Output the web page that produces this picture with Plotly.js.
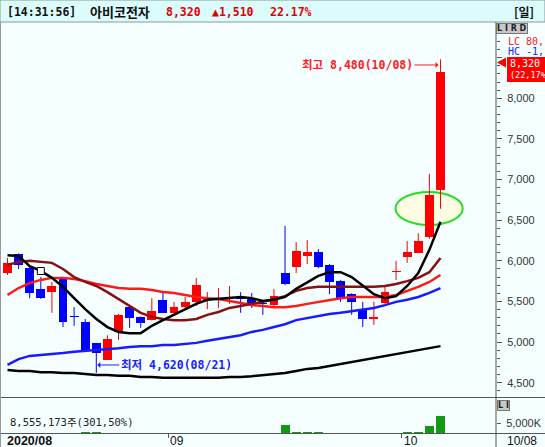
<!DOCTYPE html>
<html><head><meta charset="utf-8">
<script src="https://cdn.plot.ly/plotly-3.0.1.min.js"></script>
<style>html,body{margin:0;padding:0;background:#f5ffff}#c{width:545px;height:447px}</style>
</head><body><div id="c"></div>
<script>
// ---- data ----
const dates = ['08/10','08/11','08/12','08/13','08/14','08/18','08/19','08/20','08/21','08/24',
  '08/25','08/26','08/27','08/28','08/31','09/01','09/02','09/03','09/04','09/07',
  '09/08','09/09','09/10','09/11','09/14','09/15','09/16','09/17','09/18','09/21',
  '09/22','09/23','09/24','09/25','09/28','09/29','10/05','10/06','10/07','10/08'];
const openP  = [5850,6080,5910,5650,5615,5775,5320,5245,4990,4780, 5125,5430,5310,5270,5520,5360,5430,5495,5520,5530,
  5540,5545,5530,5480,5455,5850,5925,6060,6110,5950, 5750,5590,5405,5290,5480,5865,6045,6095,6295,6870];
const highP  = [6035,6090,5935,5800,5740,5780,5430,5285,4990,5085, 5345,5445,5315,5540,5615,5495,5555,5790,5615,5665,
  5690,5615,5605,5520,5655,6430,6230,6255,6145,5960, 5765,5600,5495,5495,5700,6000,6245,6340,7070,8480];
const lowP   = [5825,5900,5540,5530,5360,5185,5200,4900,4620,4780, 5025,5175,5175,5265,5355,5355,5395,5445,5405,5420,
  5470,5360,5420,5335,5445,5700,5850,5960,5910,5590, 5495,5335,5185,5210,5465,5765,5975,6095,6270,6640];
const closeP = [5975,5950,5605,5540,5690,5245,5305,4900,4865,5040, 5335,5295,5235,5380,5360,5430,5495,5700,5530,5540,
  5555,5530,5470,5470,5565,5715,6120,6110,5925,5740, 5540,5495,5285,5305,5615,5875,6110,6245,6810,8320];
const volume = [420000,380000,350000,300000,260000,410000,280000,450000,520000,390000,
  330000,280000,200000,240000,260000,180000,210000,330000,190000,170000,
  160000,150000,140000,130000,210000,4230000,600000,520000,460000,400000,
  360000,300000,280000,190000,260000,420000,480000,560000,3740000,8555173];
const ma5   = [6070,6060,5935,5875,5790,5680,5540,5405,5285,5185, 5125,5110,5110,5200,5270,5335,5395,5470,5520,5530,
  5540,5555,5540,5505,5520,5555,5655,5740,5815,5860, 5860,5800,5700,5590,5540,5565,5690,5850,6135,6480];
const ma10  = [5950,5985,6000,5985,5975,5900,5800,5740,5690,5615, 5530,5445,5360,5310,5285,5270,5270,5285,5335,5370,
  5420,5445,5470,5495,5530,5565,5630,5665,5680,5680, 5680,5680,5680,5680,5690,5715,5750,5790,5860,6035];
const ma20  = [5580,5665,5725,5765,5790,5790,5775,5750,5715,5690, 5665,5655,5655,5640,5615,5605,5580,5555,5540,5530,
  5505,5480,5455,5445,5430,5430,5445,5470,5495,5520, 5540,5555,5555,5555,5555,5580,5630,5680,5740,5825];
const ma60  = [4720,4790,4830,4840,4855,4865,4880,4890,4900,4915, 4925,4940,4950,4950,4965,4965,4975,4990,5015,5040,
  5060,5085,5125,5150,5185,5220,5270,5295,5320,5345, 5360,5380,5395,5420,5455,5495,5520,5555,5605,5665];
const ma120 = [4655,4645,4645,4630,4630,4620,4620,4605,4595,4595, 4585,4585,4570,4570,4560,4560,4560,4560,4560,4560,
  4570,4570,4580,4595,4605,4620,4645,4670,4680,4705, 4730,4755,4780,4805,4830,4855,4880,4900,4925,4950];
const priceTicks = [4500,5000,5500,6000,6500,7000,7500,8000,8500];
const monthTickText = ['2020/08','09','10'];

// ---- build ----
const idx = dates.map((d,i)=>i);
const UP='#ff0000', DN='#0000ff';
const isUp = idx.map(i=>closeP[i]>=openP[i]);
const bodyBase = idx.map(i=>Math.min(openP[i],closeP[i]));
const bodyH = idx.map(i=>Math.max(Math.abs(closeP[i]-openP[i]),12));
const bodyCol = idx.map(i=>isUp[i]?UP:DN);
function wick(up){const x=[],y=[];idx.forEach(i=>{if(isUp[i]===up){x.push(i,i,null);y.push(lowP[i],highP[i],null);}});return {x,y};}
const wu=wick(true), wd=wick(false);
const monthStart = idx.filter(i=>i===0||dates[i].slice(0,2)!==dates[i-1].slice(0,2));
const monthBound = monthStart.map(i=>i-0.5);

const X = px=>px/545, Y = py=>1-py/447;
const MONO='DejaVu Sans Mono, Noto Sans CJK KR';
const CJK='Noto Sans CJK KR, DejaVu Sans';

const traces = [
 {type:'scatter',mode:'lines',x:wu.x,y:wu.y,line:{color:UP,width:1},xaxis:'x',yaxis:'y',hoverinfo:'skip'},
 {type:'scatter',mode:'lines',x:wd.x,y:wd.y,line:{color:DN,width:1},xaxis:'x',yaxis:'y',hoverinfo:'skip'},
 {type:'bar',x:idx,y:bodyH,base:bodyBase,width:0.8,marker:{color:bodyCol,line:{width:0}},xaxis:'x',yaxis:'y'},
 {type:'scatter',mode:'lines',x:idx,y:ma120,line:{color:'#000000',width:2.5}},
 {type:'scatter',mode:'lines',x:idx,y:ma60,line:{color:'#1a1aff',width:2.5}},
 {type:'scatter',mode:'lines',x:idx,y:ma20,line:{color:'#ff1a1a',width:2.5}},
 {type:'scatter',mode:'lines',x:idx,y:ma10,line:{color:'#8b1010',width:2.5}},
 {type:'scatter',mode:'lines',x:idx,y:ma5,line:{color:'#000000',width:2.5}},
 {type:'scatter',mode:'markers',x:[idx[3]],y:[ma5[3]],marker:{symbol:'square',size:7,color:'#ffffff',line:{color:'#000',width:1}}},
 {type:'bar',x:idx,y:volume,width:0.8,marker:{color:'#119911',line:{width:0}},xaxis:'x2',yaxis:'y2'}
];

const lastI = idx.length-1;
const lowI = lowP.indexOf(Math.min(...lowP));
const highI = highP.indexOf(Math.max(...highP));
const fmt = v=>v.toLocaleString('en-US');
const chg = closeP[lastI]-closeP[lastI-1];
const pct = (chg/closeP[lastI-1]*100).toFixed(2);

const annotations = [
 {xref:'paper',yref:'paper',x:X(5),y:Y(12),xanchor:'left',yanchor:'middle',showarrow:false,text:'<b>[14:31:56]</b>',font:{family:MONO,size:11.5,color:'#111'}},
 {xref:'paper',yref:'paper',x:X(88),y:Y(12),xanchor:'left',yanchor:'middle',showarrow:false,text:'<b>아비코전자</b>',font:{family:CJK,size:13,color:'#111'}},
 {xref:'paper',yref:'paper',x:X(164),y:Y(12),xanchor:'left',yanchor:'middle',showarrow:false,text:'<b>'+fmt(closeP[lastI])+'</b>',font:{family:MONO,size:11.5,color:'#e00000'}},
 {xref:'paper',yref:'paper',x:X(210),y:Y(12),xanchor:'left',yanchor:'middle',showarrow:false,text:'<b>▲'+fmt(chg)+'</b>',font:{family:MONO,size:11.5,color:'#e00000'}},
 {xref:'paper',yref:'paper',x:X(268),y:Y(12),xanchor:'left',yanchor:'middle',showarrow:false,text:'<b>'+pct+'%</b>',font:{family:MONO,size:11.5,color:'#e00000'}},
 {xref:'paper',yref:'paper',x:X(512),y:Y(12),xanchor:'left',yanchor:'middle',showarrow:false,text:'<b>[일]</b>',font:{family:CJK,size:12,color:'#111'}},
 {xref:'paper',yref:'paper',x:X(496),y:Y(29),xanchor:'left',yanchor:'middle',showarrow:false,text:'<b>L I R D</b>',font:{family:'DejaVu Sans',size:8,color:'#222'},bgcolor:'#c8c8c8',bordercolor:'#777',borderwidth:1,borderpad:0},
 {xref:'paper',yref:'paper',x:X(506),y:Y(41.5),xanchor:'left',yanchor:'middle',showarrow:false,text:'LC 80,',font:{family:MONO,size:10,color:'#ff2020'}},
 {xref:'paper',yref:'paper',x:X(506),y:Y(51.5),xanchor:'left',yanchor:'middle',showarrow:false,text:'HC -1,',font:{family:MONO,size:10,color:'#2020ff'}},
 {xref:'paper',yref:'paper',x:X(507.5),y:Y(63),xanchor:'left',yanchor:'middle',showarrow:false,text:fmt(closeP[lastI]),font:{family:MONO,size:10,color:'#ffffff'}},
 {xref:'paper',yref:'paper',x:X(507.5),y:Y(75),xanchor:'left',yanchor:'middle',showarrow:false,text:'('+pct.replace('.',',')+'%',font:{family:MONO,size:8.5,color:'#ffffff'}},
 {xref:'x',yref:'y',x:highI,y:8410,ax:-83,ay:0,showarrow:true,arrowhead:1,arrowsize:1,arrowwidth:1,arrowcolor:'#ff2020',standoff:2,
  text:'<b>최고 '+fmt(highP[highI])+'('+dates[highI]+')</b>',font:{family:MONO,size:11.5,color:'#ff2020'}},
 {xref:'x',yref:'y',x:lowI,y:4718,ax:80,ay:0,showarrow:true,arrowhead:1,arrowsize:1,arrowwidth:1,arrowcolor:'#2020ff',standoff:1,
  text:'<b>최저 '+fmt(lowP[lowI])+'('+dates[lowI]+')</b>',font:{family:MONO,size:11.5,color:'#2020ff'}},
 {xref:'paper',yref:'paper',x:X(8),y:Y(422),xanchor:'left',yanchor:'middle',showarrow:false,text:fmt(volume[lastI])+'주(301,50%)',font:{family:MONO,size:10.5,color:'#222'}},
 {xref:'paper',yref:'paper',x:X(497),y:Y(405),xanchor:'left',yanchor:'middle',showarrow:false,text:'<b>L I</b>',font:{family:'DejaVu Sans',size:8,color:'#222'},bgcolor:'#c8c8c8',bordercolor:'#777',borderwidth:1,borderpad:0},
 {xref:'x2',yref:'paper',x:monthBound[0]+0.3,y:Y(441),xanchor:'left',yanchor:'middle',showarrow:false,text:'<b>'+monthTickText[0]+'</b>',font:{family:'Liberation Sans',size:12.5,color:'#111'}},
 {xref:'x2',yref:'paper',x:monthBound[1],y:Y(441),xanchor:'left',yanchor:'middle',showarrow:false,text:monthTickText[1],font:{family:'Liberation Sans',size:12,color:'#111'}},
 {xref:'x2',yref:'paper',x:monthBound[2],y:Y(441),xanchor:'left',yanchor:'middle',showarrow:false,text:monthTickText[2],font:{family:'Liberation Sans',size:12,color:'#111'}},
 {xref:'paper',yref:'paper',x:X(505),y:Y(441),xanchor:'left',yanchor:'middle',showarrow:false,text:dates[lastI],font:{family:'Liberation Sans',size:12,color:'#111'}}
];

const shapes = [
 {type:'rect',xref:'paper',yref:'paper',x0:0,x1:1,y0:Y(22),y1:1,fillcolor:'#dcfcfc',line:{color:'#8a9a9a',width:1},layer:'below'},
 {type:'circle',xref:'x',yref:'y',x0:34.95,x1:41.0,y0:6441,y1:6847,fillcolor:'rgba(255,253,225,0.9)',line:{color:'#22dd22',width:2},layer:'below'},
 {type:'line',xref:'paper',yref:'paper',x0:0,x1:1,y0:Y(397.5),y1:Y(397.5),line:{color:'#555',width:1}},
 {type:'line',xref:'paper',yref:'paper',x0:0,x1:1,y0:Y(433.5),y1:Y(433.5),line:{color:'#555',width:1}},
 {type:'line',xref:'paper',yref:'paper',x0:X(496),x1:X(496),y0:Y(22),y1:0,line:{color:'#555',width:1}},
 {type:'line',xref:'paper',yref:'paper',x0:X(0.5),x1:X(0.5),y0:Y(22),y1:0,line:{color:'#999',width:1}},
 {type:'rect',xref:'paper',yref:'paper',x0:X(507),x1:1,y0:Y(82),y1:Y(57),fillcolor:'#ff0000',line:{width:0}},
 {type:'path',xref:'paper',yref:'paper',path:`M ${X(497)} ${Y(62.5)} L ${X(506)} ${Y(57.5)} L ${X(506)} ${Y(67.5)} Z`,fillcolor:'#ff0000',line:{width:0}}
];

// the 8,500 level sits under the price tag, so only its tick mark is drawn
const tickText = priceTicks.map(v=>v>8400?'':fmt(v));

const layout = {
 width:545,height:447,margin:{l:0,r:0,t:0,b:0},autosize:false,
 paper_bgcolor:'#f5ffff',plot_bgcolor:'#f5ffff',showlegend:false,hovermode:false,bargap:0,
 xaxis:{domain:[X(2),X(496)],range:[-0.495,44.0],showticklabels:false,showgrid:false,zeroline:false,ticks:'',anchor:'y'},
 yaxis:{domain:[Y(397),Y(22)],range:[4324,8939],side:'right',anchor:'x',showgrid:false,zeroline:false,
   tickmode:'array',tickvals:priceTicks,ticktext:tickText,ticks:'outside',ticklen:5,tickcolor:'#555',
   minor:{dtick:100,ticks:'outside',ticklen:3,tickcolor:'#555'},
   tickfont:{family:'Liberation Sans',size:11,color:'#333'},ticklabelstandoff:3},
 xaxis2:{domain:[X(2),X(496)],range:[-0.495,44.0],anchor:'y2',showgrid:false,zeroline:false,showticklabels:false,
   tickmode:'array',tickvals:monthBound.slice(1),ticks:'outside',ticklen:4,tickcolor:'#555'},
 yaxis2:{domain:[Y(433.4),Y(397.6)],range:[0,17.4e6],side:'right',anchor:'x2',showgrid:false,zeroline:false,
   tickmode:'array',tickvals:[5e6],ticktext:['5,000K'],ticks:'outside',ticklen:4,tickcolor:'#555',
   tickfont:{family:'Liberation Sans',size:11,color:'#333'},ticklabelstandoff:3},
 annotations,shapes
};
Plotly.newPlot('c',traces,layout,{displayModeBar:false,staticPlot:true});
</script></body></html>
